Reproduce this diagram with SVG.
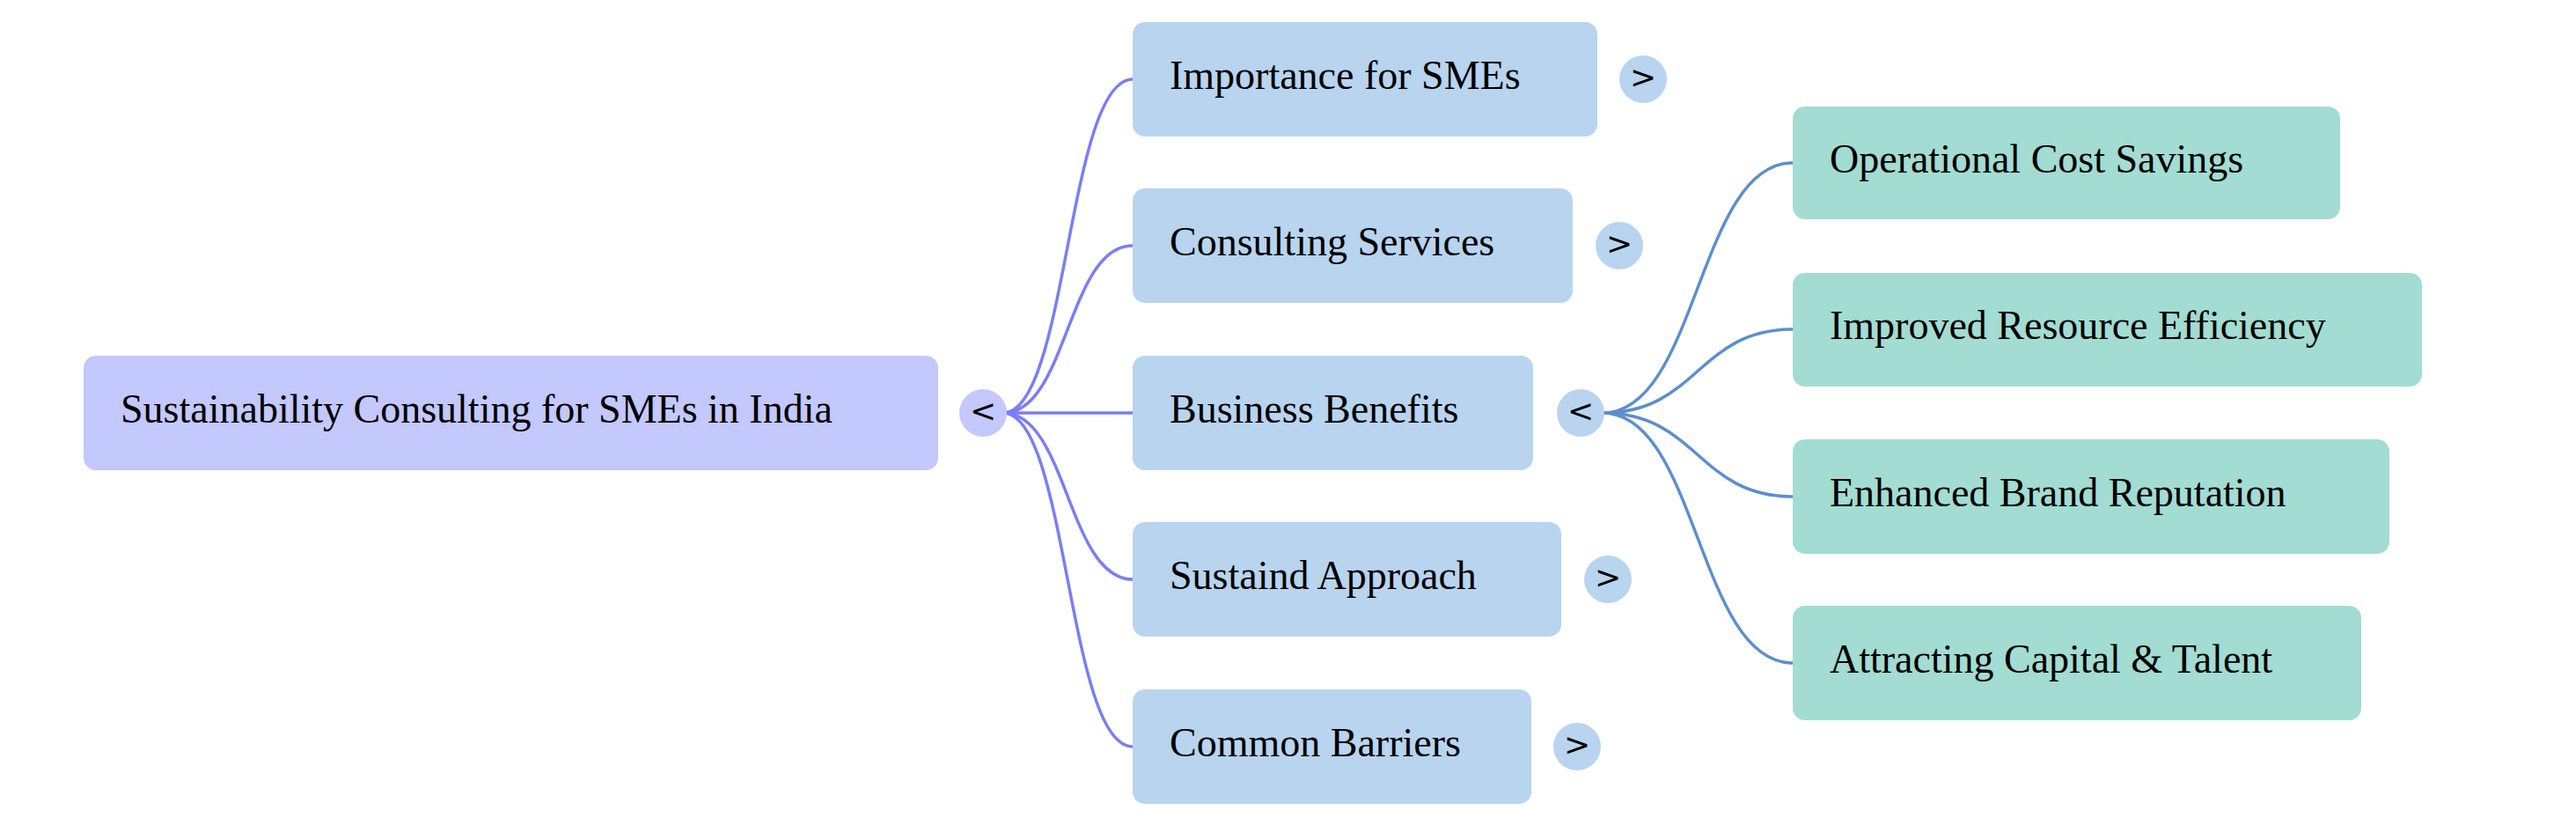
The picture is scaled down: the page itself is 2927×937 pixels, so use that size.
<svg xmlns="http://www.w3.org/2000/svg" width="2927" height="937" viewBox="0 0 2927 937">
<style>
text{font-family:"Liberation Serif","Times New Roman",serif;font-size:46px;fill:#000;dominant-baseline:central}
.root{fill:#c3c8fd}.l1{fill:#b8d4ef}.l2{fill:#a2dcd2}
.tg{font-family:"DejaVu Sans",sans-serif;font-size:36px;text-anchor:middle}
.c1{fill:none;stroke:#7b7ef5;stroke-width:3.5}.c2{fill:none;stroke:#5b8fcf;stroke-width:3.5}
</style>
<g transform="translate(0,-5)">
<g id="connectors">
<path class="c1" d="M1140 474 C1213 474 1213 95 1287 95"/>
<path class="c1" d="M1140 474 C1213 474 1213 284 1287 284"/>
<path class="c1" d="M1140 474 L1287 474"/>
<path class="c1" d="M1140 474 C1213 474 1213 663 1287 663"/>
<path class="c1" d="M1140 474 C1213 474 1213 853 1287 853"/>
<path class="c2" d="M1821 474 C1929 474 1929 190 2037 190"/>
<path class="c2" d="M1821 474 C1929 474 1929 379 2037 379"/>
<path class="c2" d="M1821 474 C1929 474 1929 569 2037 569"/>
<path class="c2" d="M1821 474 C1929 474 1929 758 2037 758"/>
</g>
<g id="root"><rect class="root" x="95" y="409" width="971" height="130" rx="14"/><text x="137" y="469">Sustainability Consulting for SMEs in India</text>
<circle class="root" cx="1117" cy="474" r="27"/><text class="tg" x="1117" y="471">&lt;</text></g>
<g id="n1"><rect class="l1" x="1287" y="30" width="528" height="130" rx="14"/><text x="1329" y="90">Importance for SMEs</text>
<circle class="l1" cx="1867" cy="95" r="27"/><text class="tg" x="1867" y="92">&gt;</text></g>
<g id="n2"><rect class="l1" x="1287" y="219" width="500" height="130" rx="14"/><text x="1329" y="279">Consulting Services</text>
<circle class="l1" cx="1840" cy="284" r="27"/><text class="tg" x="1840" y="281">&gt;</text></g>
<g id="n3"><rect class="l1" x="1287" y="409" width="455" height="130" rx="14"/><text x="1329" y="469">Business Benefits</text>
<circle class="l1" cx="1796" cy="474" r="27"/><text class="tg" x="1796" y="471">&lt;</text></g>
<g id="n4"><rect class="l1" x="1287" y="598" width="487" height="130" rx="14"/><text x="1329" y="658">Sustaind Approach</text>
<circle class="l1" cx="1827" cy="663" r="27"/><text class="tg" x="1827" y="660">&gt;</text></g>
<g id="n5"><rect class="l1" x="1287" y="788" width="453" height="130" rx="14"/><text x="1329" y="848">Common Barriers</text>
<circle class="l1" cx="1792" cy="853" r="27"/><text class="tg" x="1792" y="850">&gt;</text></g>
<g id="n6"><rect class="l2" x="2037" y="126" width="622" height="128" rx="14"/><text x="2079" y="185">Operational Cost Savings</text></g>
<g id="n7"><rect class="l2" x="2037" y="315" width="715" height="129" rx="14"/><text x="2079" y="374">Improved Resource Efficiency</text></g>
<g id="n8"><rect class="l2" x="2037" y="504" width="678" height="130" rx="14"/><text x="2079" y="564">Enhanced Brand Reputation</text></g>
<g id="n9"><rect class="l2" x="2037" y="693" width="646" height="130" rx="14"/><text x="2079" y="753">Attracting Capital &amp; Talent</text></g>
</g>
</svg>
